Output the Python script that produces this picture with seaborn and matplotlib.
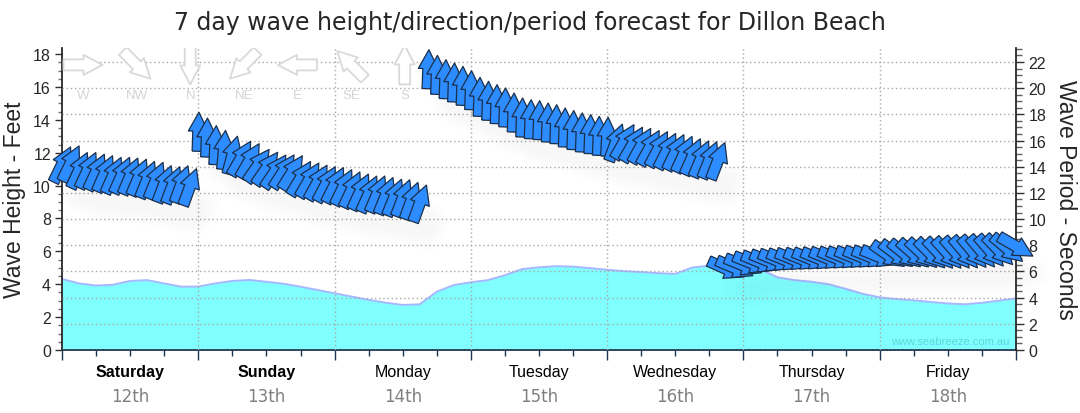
import numpy as np
import pandas as pd
import matplotlib
matplotlib.use("Agg")
import matplotlib.pyplot as plt
import seaborn as sns
from matplotlib.ticker import MultipleLocator
from matplotlib.transforms import blended_transform_factory

# ---------------- data ----------------
TITLE = "7 day wave height/direction/period forecast for Dillon Beach"
day_names = ["Saturday", "Sunday", "Monday", "Tuesday", "Wednesday", "Thursday", "Friday"]
day_dates = ["12th", "13th", "14th", "15th", "16th", "17th", "18th"]
weekend = [True, True, False, False, False, False, False]

# wave height (feet), 3-hourly from Saturday 00:00
height_hours = list(range(0, 169, 3))
height_ft = [4.32, 4.05, 3.92, 3.97, 4.20, 4.25, 4.05, 3.85, 3.86, 4.05,
             4.20, 4.26, 4.15, 4.03, 3.85, 3.65, 3.45, 3.25, 3.05, 2.88,
             2.74, 2.78, 3.55, 3.95, 4.12, 4.25, 4.55, 4.92, 5.03, 5.10,
             5.07, 4.98, 4.88, 4.80, 4.74, 4.67, 4.63, 5.02, 5.13, 5.15,
             5.10, 4.90, 4.42, 4.25, 4.15, 4.00, 3.72, 3.42, 3.20, 3.10,
             3.02, 2.92, 2.83, 2.78, 2.87, 3.00, 3.14]

# wave period (seconds) + direction the swell comes FROM (deg), 1.5-hourly
period_step_h = 1.5
seg_start_h = [0.0, 24.0, 64.5, 117.0]
seg1_period = [14.17, 14.25, 13.73, 13.73, 13.60, 13.48, 13.35, 13.35,
               13.29, 13.20, 13.02, 12.95, 12.69, 12.61, 12.67, 12.45]
seg1_from = [206, 206, 205, 205, 205, 204, 204, 204,
             203, 203, 202, 202, 201, 201, 200, 200]
seg2_period = [16.67, 16.23, 15.65, 15.29, 14.89, 14.65, 14.47, 14.10, 13.88,
               13.65, 13.65, 13.57, 13.12, 12.99, 12.81, 12.68, 12.60, 12.43,
               12.25, 12.09, 11.92, 11.92, 11.79, 11.66, 11.61, 11.40, 11.20]
seg2_from = [182, 182, 183, 185, 195, 210, 210, 215, 215,
             214, 213, 212, 211, 210, 209, 208, 207, 206,
             205, 205, 204, 203, 202, 202, 201, 200, 200]
seg3_period = [21.45, 21.02, 20.69, 20.44, 20.18, 19.85, 19.34, 19.04, 18.78,
               18.53, 18.14, 17.76, 17.63, 17.56, 17.38, 17.25, 17.00, 16.80,
               16.62, 16.49, 16.36, 16.29, 15.85, 15.92, 15.72, 15.62, 15.46,
               15.36, 15.21, 15.11, 14.96, 14.77, 14.60, 14.52, 14.45]
seg3_from = [182, 182, 182, 182, 182, 182, 182, 182, 182,
             182, 182, 182, 182, 182, 182, 182, 182, 182,
             182, 182, 182, 183, 200, 210, 210, 209, 209,
             208, 207, 206, 205, 204, 203, 202, 201]
seg4_period = [6.19, 6.26, 6.46, 6.62, 6.69, 6.77, 6.82, 6.85, 6.88, 6.90,
               6.92, 6.94, 6.97, 6.99, 7.01, 7.04, 7.06, 7.08, 7.10,
               7.24, 7.28, 7.30, 7.32, 7.33, 7.33, 7.34, 7.36, 7.39, 7.42,
               7.46, 7.49, 7.54, 7.60, 7.73, 7.92]
seg4_from = [294, 293, 292, 292, 292, 292, 292, 292, 292, 292,
             292, 292, 292, 292, 292, 292, 292, 292, 292,
             305, 307, 309, 311, 313, 315, 317, 318, 319, 320,
             320, 320, 319, 316, 310, 300]

compass_labels = ["W", "NW", "N", "NE", "E", "SE", "S"]
compass_from = [270, 315, 0, 45, 90, 135, 180]

# ---------------- tidy frames ----------------
df_h = pd.DataFrame({"hour": height_hours, "height": height_ft})
rows = []
for start, per, frm in zip(seg_start_h,
                           [seg1_period, seg2_period, seg3_period, seg4_period],
                           [seg1_from, seg2_from, seg3_from, seg4_from]):
    for i, (p, f) in enumerate(zip(per, frm)):
        rows.append((start + i * period_step_h, p, f))
df_p = pd.DataFrame(rows, columns=["hour", "period", "from_deg"])

# ---------------- style ----------------
sns.set_theme(style="white")
plt.rcParams["font.family"] = ["Liberation Sans", "DejaVu Sans"]
plt.rcParams["axes.unicode_minus"] = False

W, H = 1080, 414
fig = plt.figure(figsize=(W / 100, H / 100), dpi=100)
fig.patch.set_facecolor("white")
ax = fig.add_axes([62 / W, 1 - 351 / H, 954 / W, 302 / H])
ax2 = ax.twinx()

# ---------------- wave height area ----------------
ax.fill_between(df_h["hour"], 0, df_h["height"], color="#80ffff", lw=0, zorder=1)
sns.lineplot(data=df_h, x="hour", y="height", ax=ax, color="#a6b8ff", lw=1.4, zorder=2)
ax.set_xlim(0, 168)
ax.set_ylim(0, 302 / 16.44)
ax.set_xlabel("")
ax.set_ylabel("Wave Height - Feet", fontsize=16.5, labelpad=5)
ax.yaxis.set_major_locator(MultipleLocator(2))
ax.yaxis.set_minor_locator(MultipleLocator(0.5))
ax.xaxis.set_major_locator(MultipleLocator(24))
ax.xaxis.set_minor_locator(MultipleLocator(6))
ax.set_xticklabels([])
ax.tick_params(axis="y", which="major", direction="out", length=5, width=1,
               color="#303030", labelsize=11.5, pad=3, left=True)
ax.tick_params(axis="y", which="minor", direction="out", length=3, width=1,
               color="#707070", left=True)
ax.tick_params(axis="x", which="major", direction="out", length=7, width=1,
               color="#1e3550", bottom=True)
ax.tick_params(axis="x", which="minor", direction="out", length=4, width=1,
               color="#1e3550", bottom=True)

# ---------------- period axis ----------------
ax2.set_ylim(0, 302 / 13.09)
ax2.yaxis.set_major_locator(MultipleLocator(2))
ax2.yaxis.set_minor_locator(MultipleLocator(0.5))
ax2.tick_params(axis="y", which="major", direction="out", length=6, width=1,
                color="#303030", labelsize=11.5, pad=3, right=True)
ax2.tick_params(axis="y", which="minor", direction="out", length=4, width=1,
                color="#606060", right=True)
ax2.set_ylabel("Wave Period - Seconds", fontsize=16.5, rotation=-90, labelpad=22)
ax2.grid(axis="y", which="major", color="#a8a8a8", ls=(0, (1, 2)), lw=1)
for d in range(1, 7):
    ax2.axvline(24 * d, color="#a8a8a8", ls=(0, (1, 2)), lw=1, zorder=0.5)

for a in (ax, ax2):
    for s in a.spines.values():
        s.set_visible(False)
ax.spines["left"].set_visible(True)
ax.spines["left"].set_color("#202020")
ax.spines["bottom"].set_visible(True)
ax.spines["bottom"].set_color("#1e3550")
ax.spines["bottom"].set_linewidth(1.3)
ax2.spines["right"].set_visible(True)
ax2.spines["right"].set_color("#202020")


# ---------------- arrows ----------------
def arrow_uv(from_deg):
    to = np.deg2rad(np.asarray(from_deg, float) + 180.0)
    return np.sin(to), np.cos(to)


ARROW = dict(angles="uv", scale_units="dots", scale=1 / 39.0, units="dots",
             width=11, headwidth=20 / 11, headlength=19 / 11,
             headaxislength=19 / 11, pivot="middle")


def shadow_filter(im, dpi):
    pad = 26
    a = np.pad(im[..., 3], pad)
    sig = 3.6
    xs = np.arange(-11, 12)
    k = np.exp(-0.5 * (xs / sig) ** 2)
    k /= k.sum()
    a = np.apply_along_axis(lambda m: np.convolve(m, k, mode="same"), 0, a)
    a = np.apply_along_axis(lambda m: np.convolve(m, k, mode="same"), 1, a)
    a = np.roll(a, 5, axis=1)
    a = np.roll(a, 8, axis=0)
    out = np.zeros(a.shape + (4,))
    out[..., 3] = np.clip(a, 0, 1) * 0.33
    return out, -pad, -pad


U, V = arrow_uv(df_p["from_deg"])
sh = ax2.quiver(df_p["hour"], df_p["period"], U, V, color="black", zorder=3,
                clip_on=False, **ARROW)
sh.set_agg_filter(shadow_filter)
q = ax2.quiver(df_p["hour"], df_p["period"], U, V, facecolor="#2d8cff",
               edgecolor="#1b2f4a", linewidth=0.9, zorder=4, clip_on=False, **ARROW)

# compass legend
cU, cV = arrow_uv(compass_from)
cx = [0.022 + 0.0562 * i for i in range(len(compass_labels))]
ax2.quiver(cx, [0.944] * len(cx), cU, cV, transform=ax2.transAxes,
           facecolor="white", edgecolor="#d9d9d9", linewidth=1.3, zorder=2,
           **ARROW)
for x, lab in zip(cx, compass_labels):
    ax2.text(x, 0.846, lab, transform=ax2.transAxes, ha="center", va="center",
             fontsize=9.5, color="#d4d4d4", zorder=2)

# ---------------- texts ----------------
trans = blended_transform_factory(ax.transData, ax.transAxes)
for i, (nm, dt, wk) in enumerate(zip(day_names, day_dates, weekend)):
    xc = 24 * i + 12
    ax.text(xc, -0.07, nm, transform=trans, ha="center", va="center",
            fontsize=11.5, fontweight="bold" if wk else "normal", color="black")
    ax.text(xc, -0.152, dt, transform=trans, ha="center", va="center",
            fontsize=12, color="#808080", family="DejaVu Sans")

fig.text(530 / W, 1 - 23 / H, TITLE, ha="center", va="center", fontsize=17,
         family="DejaVu Sans")
ax2.text(0.993, 0.03, "www.seabreeze.com.au", transform=ax2.transAxes,
         ha="right", va="center", fontsize=8, color="#5cd6dc", zorder=2)

fig.savefig("out.png", dpi=100)
